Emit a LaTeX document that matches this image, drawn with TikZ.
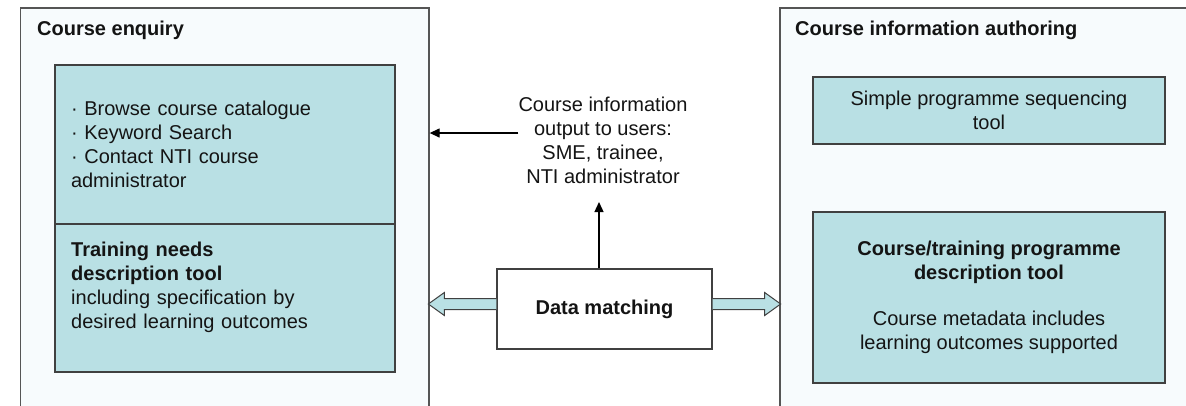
\documentclass[tikz,border=0pt]{standalone}
\usepackage{fontspec}
\setmainfont{Liberation Sans}
\usetikzlibrary{arrows.meta,calc}
\definecolor{boxfill}{RGB}{185,224,228}
\definecolor{panelfill}{RGB}{247,251,253}
\definecolor{panelline}{RGB}{85,85,85}
\definecolor{toolline}{RGB}{64,64,64}
\definecolor{txt}{RGB}{20,20,20}
\begin{document}
\begin{tikzpicture}[x=1pt,y=-1pt,
  every node/.style={font=\fontsize{20}{24}\selectfont, text=txt},
  panel/.style={draw=panelline, line width=1.3pt, fill=panelfill, inner sep=0pt},
  tool/.style={draw=toolline, line width=1.3pt, fill=boxfill, inner sep=0pt},
  title/.style={anchor=base west, inner sep=0pt, font=\fontsize{20}{24}\selectfont\bfseries},
  conn/.style={draw=black, line width=1.3pt, -{Triangle[length=10pt,width=9pt]}},
  blockarrow/.style={draw=toolline, line width=1pt, fill=boxfill, line join=miter}
]
\useasboundingbox (0,0) rectangle (1186,405);
\fill[white] (0,0) rectangle (1186,405);
\clip (0,0) rectangle (1186,405);

% panels
\node[panel, minimum width=408.5pt, minimum height=420pt] (lpanel) at (224.75,218) {};
\node[panel, minimum width=420pt, minimum height=420pt] (rpanel) at (990,218) {};
\node[title] (ltitle) at (37,35) {Course enquiry};
\node[title] (rtitle) at (795,35) {Course information authoring};

% left tools
\node[tool, minimum width=340pt, minimum height=159pt, text width=308pt, inner xsep=16pt, align=left] (browse) at (225,144.5)
  {· Browse course catalogue\\· Keyword Search\\· Contact NTI course\\administrator};
\node[tool, minimum width=340pt, minimum height=148pt] (needs) at (225,298) {};
\node[anchor=north west, inner sep=0pt, text width=320pt, align=left] (needstext) at (71,241.5)
  {\textbf{Training needs}\\\textbf{description tool}\\including specification by\\desired learning outcomes};

% right tools
\node[tool, minimum width=352pt, minimum height=67pt, align=center] (seq) at (989,110.5)
  {Simple programme sequencing\\tool};
\node[tool, minimum width=352pt, minimum height=171pt, align=center] (desc) at (989,297.5)
  {\textbf{Course/training programme}\\\textbf{description tool}\\[22pt]Course metadata includes\\learning outcomes supported};

% middle
\node[inner sep=0pt, align=center] (out) at (603,140)
  {Course information\\output to users:\\SME, trainee,\\NTI administrator};
\node[draw=toolline, line width=1.3pt, fill=white, minimum width=215pt, minimum height=80pt, font=\fontsize{20}{24}\selectfont\bfseries] (dm) at (604.5,309) {Data matching};

% connectors
\coordinate (a1) at ($(out.west)+(0,-7)$);
\draw[conn] (a1) -- (a1 -| lpanel.east);
\coordinate (outfoot) at (599,202);
\draw[conn] (dm.north -| outfoot) -- (outfoot);

% block arrows
\draw[blockarrow] ($(dm.west)+(0,-10.5)$) -- ($(dm.west)+(-52,-10.5)$) -- ($(dm.west)+(-52,-16.5)$)
  -- ($(dm.west)+(-68,-5)$) -- ($(dm.west)+(-52,6.5)$) -- ($(dm.west)+(-52,0.5)$) -- ($(dm.west)+(0,0.5)$);
\draw[blockarrow] ($(dm.east)+(0,-10.5)$) -- ($(dm.east)+(52,-10.5)$) -- ($(dm.east)+(52,-16.5)$)
  -- ($(dm.east)+(68,-5)$) -- ($(dm.east)+(52,6.5)$) -- ($(dm.east)+(52,0.5)$) -- ($(dm.east)+(0,0.5)$);
\end{tikzpicture}
\end{document}
